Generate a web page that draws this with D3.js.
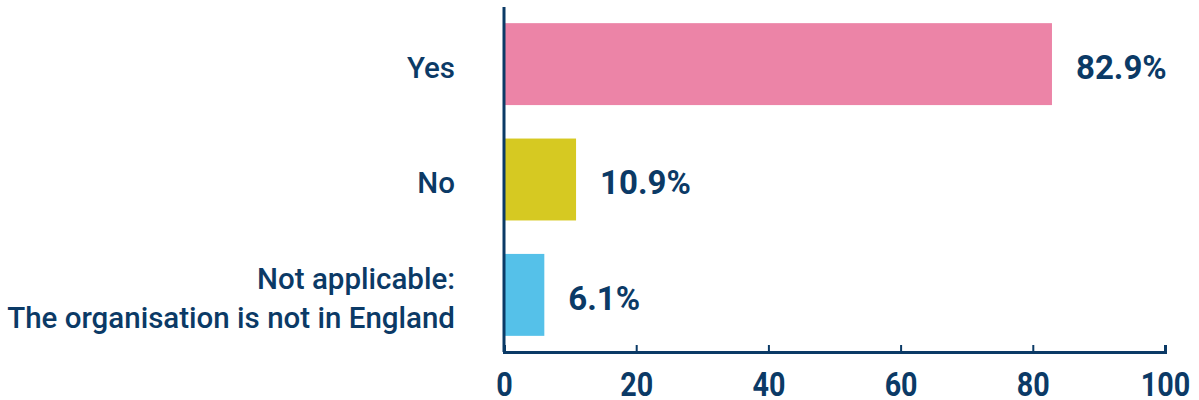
<!DOCTYPE html>
<html>
<head>
<meta charset="utf-8">
<script src="https://cdn.jsdelivr.net/npm/d3@7"></script>
<style>
  html, body { margin: 0; padding: 0; background: #fff; }
  svg { display: block; font-family: Roboto, "Noto Sans", sans-serif; }
</style>
</head>
<body>
<svg id="chart" width="1199" height="400"></svg>
<script>
// Survey answers and their shares (%)
const categories = ["Yes", "No", "Not applicable:\nThe organisation is not in England"];
const values = [82.9, 10.9, 6.1];
const barColors = ["#EC84A7", "#D6C922", "#55C1E9"];
const xTicks = [0, 20, 40, 60, 80, 100];

const ink = "#0B3A66";
const svg = d3.select("#chart");
const margin = { left: 504, right: 34, top: 7, bottom: 48 };
const width = 1199, height = 400;

const x = d3.scaleLinear().domain([0, 100]).range([margin.left, width - margin.right]);
const y = d3.scaleBand().domain(categories).range([margin.top, height - margin.bottom])
  .paddingInner(0.29).paddingOuter(0.14);

// Bars
svg.append("g").selectAll("rect")
  .data(values)
  .join("rect")
  .attr("x", x(0))
  .attr("y", (d, i) => y(categories[i]))
  .attr("width", d => x(d) - x(0))
  .attr("height", y.bandwidth())
  .attr("fill", (d, i) => barColors[i]);

// Value labels
svg.append("g").selectAll("text")
  .data(values)
  .join("text")
  .attr("x", d => x(d) + 24)
  .attr("y", (d, i) => y(categories[i]) + y.bandwidth() / 2 + 3)
  .attr("dy", "0.36em")
  .attr("fill", ink)
  .attr("font-size", 33)
  .attr("font-weight", 700)
  .text(d => d.toFixed(1) + "%");

// Category labels (multi-line, right aligned)
const labelSize = 29.5;
const lineH = 39;
svg.append("g").selectAll("text")
  .data(categories)
  .join("text")
  .attr("x", margin.left - 49)
  .attr("y", d => y(d) + y.bandwidth() / 2 + 3)
  .attr("text-anchor", "end")
  .attr("fill", ink)
  .attr("font-size", labelSize)
  .attr("font-weight", 500)
  .each(function (d) {
    const lines = d.split("\n");
    const t = d3.select(this);
    lines.forEach((ln, k) => {
      t.append("tspan")
        .attr("x", margin.left - 49)
        .attr("dy", k === 0 ? ((0.36 - (lines.length - 1) * lineH / 2 / labelSize) + "em") : lineH + "px")
        .text(ln);
    });
  });

// X axis with inward ticks
const axisY = height - margin.bottom;
const xAxis = svg.append("g")
  .attr("transform", `translate(0,${axisY})`)
  .call(d3.axisBottom(x).tickValues(xTicks).tickSize(-7).tickSizeOuter(-7).tickPadding(0).tickFormat(d3.format("d")));
xAxis.select(".domain").attr("stroke", ink).attr("stroke-width", 3);
xAxis.selectAll(".tick line").attr("stroke", ink).attr("stroke-width", 2);
xAxis.selectAll(".tick text")
  .attr("fill", ink)
  .attr("font-size", 33)
  .attr("font-weight", 700)
  .attr("font-family", "Roboto, sans-serif")
  .attr("y", 44)
  .attr("dy", 0)
  .attr("transform", "scale(0.87,1)");

// Y axis line
svg.append("line")
  .attr("x1", x(0)).attr("x2", x(0))
  .attr("y1", margin.top).attr("y2", axisY)
  .attr("stroke", ink).attr("stroke-width", 3);
</script>
</body>
</html>
